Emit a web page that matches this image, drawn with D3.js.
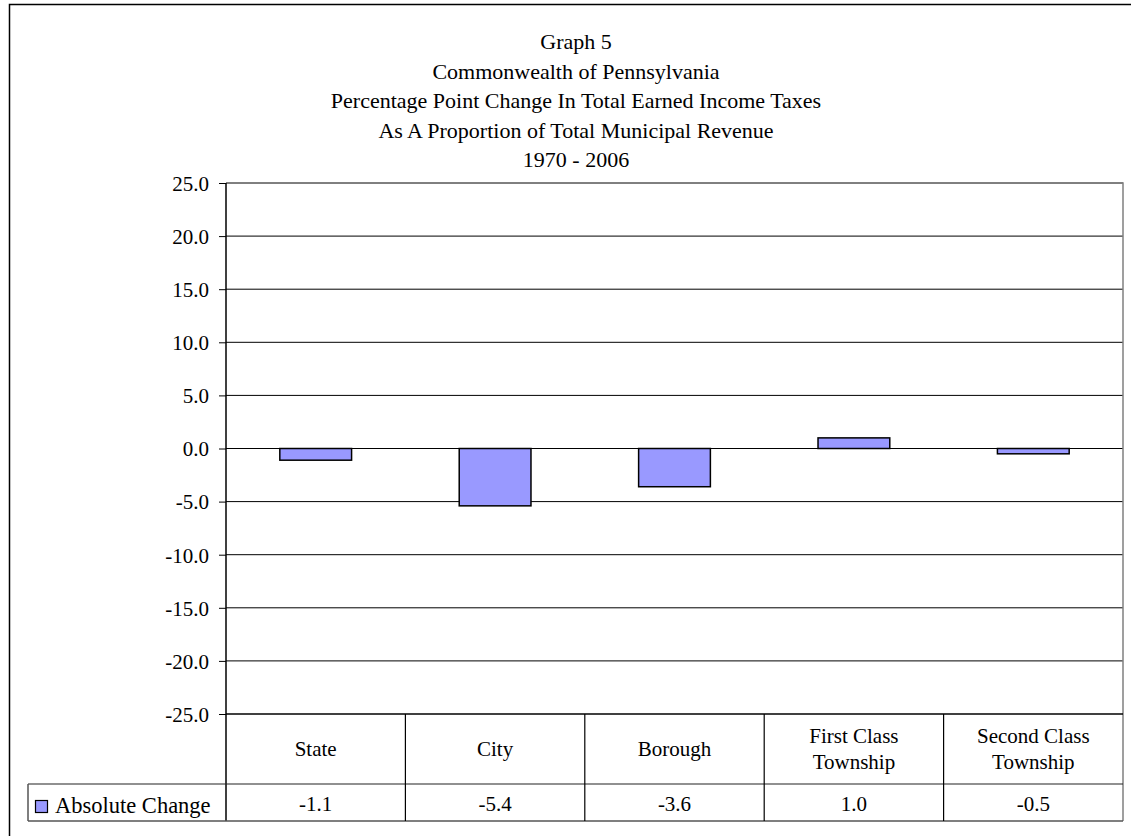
<!DOCTYPE html>
<html>
<head>
<meta charset="utf-8">
<script src="https://cdn.jsdelivr.net/npm/d3@7/dist/d3.min.js"></script>
<style>
  html, body { margin: 0; padding: 0; background: #fff; }
  svg { display: block; }
  svg text { font-family: "Liberation Serif", "DejaVu Serif", "Times New Roman", Times, serif !important; fill: #000; }
</style>
</head>
<body>
<svg id="chart" width="1131" height="836"></svg>
<script>
// Chart data
const titleLines = [
  "Graph 5",
  "Commonwealth of Pennsylvania",
  "Percentage Point Change In Total Earned Income Taxes",
  "As A Proportion of Total Municipal Revenue",
  "1970 - 2006"
];
const categories = ["State", "City", "Borough", "First Class\nTownship", "Second Class\nTownship"];
const seriesName = "Absolute Change";
const absoluteChange = [-1.1, -5.4, -3.6, 1.0, -0.5];
const yTicks = [25, 20, 15, 10, 5, 0, -5, -10, -15, -20, -25];
const yTickLabels = ["25.0", "20.0", "15.0", "10.0", "5.0", "0.0", "-5.0", "-10.0", "-15.0", "-20.0", "-25.0"];
const valueLabels = ["-1.1", "-5.4", "-3.6", "1.0", "-0.5"];

const barFill = "#9999FF";
const serif = "'Liberation Serif', 'DejaVu Serif', 'Times New Roman', Times, serif";

const svg = d3.select("#chart");

// Plot area geometry
const plot = { left: 226, right: 1123, top: 183, bottom: 714 };
const table = { left: 28, catBottom: 784, bottom: 821 };

const y = d3.scaleLinear().domain([-25, 25]).range([plot.bottom, plot.top]);
const x = d3.scaleBand().domain(categories).range([plot.left, plot.right]).padding(0);
const barW = x.bandwidth() * 0.4;

// Outer chart frame (runs off the right and bottom edges)
svg.append("path")
  .attr("d", `M9.5,840 V4.5 H1140`)
  .attr("fill", "none").attr("stroke", "#000").attr("stroke-width", 1.5);

// Title
const title = svg.append("g").attr("font-family", serif);
titleLines.forEach((t, i) => {
  title.append("text")
    .attr("x", 576).attr("y", 49 + i * 29.5)
    .attr("text-anchor", "middle")
    .attr("font-family", serif)
    .attr("font-size", 22)
    .text(t);
});

// Gridlines
svg.append("g")
  .selectAll("line")
  .data(yTicks.filter(v => v !== -25))
  .join("line")
  .attr("x1", plot.left).attr("x2", plot.right)
  .attr("y1", d => y(d)).attr("y2", d => y(d))
  .attr("stroke", "#000").attr("stroke-width", 1);

// Plot area border (top and right) in gray
svg.append("path")
  .attr("d", `M${plot.left},${plot.top} H${plot.right} V${table.bottom}`)
  .attr("fill", "none").attr("stroke", "#808080").attr("stroke-width", 1.5);

// Bars
svg.append("g")
  .selectAll("rect")
  .data(categories.map((c, i) => ({ c, v: absoluteChange[i] })))
  .join("rect")
  .attr("x", d => x(d.c) + (x.bandwidth() - barW) / 2)
  .attr("width", barW)
  .attr("y", d => Math.min(y(d.v), y(0)))
  .attr("height", d => Math.abs(y(d.v) - y(0)))
  .attr("fill", barFill)
  .attr("stroke", "#000").attr("stroke-width", 1.5);

// Y axis
const yAxis = d3.axisLeft(y)
  .tickValues(yTicks)
  .tickFormat((d, i) => yTickLabels[i])
  .tickSize(7)
  .tickPadding(10);
const ya = svg.append("g").attr("transform", `translate(${plot.left},0)`).call(yAxis)
  .attr("font-family", serif).attr("font-size", 21);
ya.select(".domain").remove();
ya.selectAll(".tick line").attr("stroke", "#000");
ya.selectAll(".tick text")
  .attr("font-family", serif)
  .attr("font-size", 21)
  .attr("dy", "0.35em")
  .attr("fill", "#000");
svg.append("line")
  .attr("x1", plot.left).attr("x2", plot.left)
  .attr("y1", plot.top).attr("y2", table.bottom)
  .attr("stroke", "#000").attr("stroke-width", 1.5);

// Data table under the axis
const tg = svg.append("g").attr("font-family", serif);
tg.append("line")
  .attr("x1", plot.left).attr("x2", plot.right)
  .attr("y1", plot.bottom).attr("y2", plot.bottom)
  .attr("stroke", "#000").attr("stroke-width", 1.5);
tg.append("line")
  .attr("x1", table.left).attr("x2", plot.right)
  .attr("y1", table.catBottom).attr("y2", table.catBottom)
  .attr("stroke", "#222").attr("stroke-width", 1.2);
tg.append("line")
  .attr("x1", table.left).attr("x2", plot.right)
  .attr("y1", table.bottom).attr("y2", table.bottom)
  .attr("stroke", "#555").attr("stroke-width", 1.5);
tg.append("line")
  .attr("x1", table.left).attr("x2", table.left)
  .attr("y1", table.catBottom).attr("y2", table.bottom)
  .attr("stroke", "#555").attr("stroke-width", 1.5);
tg.selectAll("line.sep")
  .data(categories.slice(1))
  .join("line").attr("class", "sep")
  .attr("x1", d => x(d)).attr("x2", d => x(d))
  .attr("y1", plot.bottom).attr("y2", table.bottom)
  .attr("stroke", "#000").attr("stroke-width", 1.2);

// Category labels
categories.forEach(c => {
  const lines = c.split("\n");
  const cx = x(c) + x.bandwidth() / 2;
  const mid = (plot.bottom + table.catBottom) / 2;
  const lh = 26;
  const t = tg.append("text")
    .attr("text-anchor", "middle")
    .attr("font-family", serif)
    .attr("font-size", 21);
  lines.forEach((ln, i) => {
    t.append("tspan")
      .attr("x", cx)
      .attr("y", mid + 7 + (i - (lines.length - 1) / 2) * lh)
      .text(ln);
  });
});

// Value row
valueLabels.forEach((v, i) => {
  tg.append("text")
    .attr("x", x(categories[i]) + x.bandwidth() / 2)
    .attr("y", 811)
    .attr("text-anchor", "middle")
    .attr("font-family", serif)
    .attr("font-size", 21)
    .text(v);
});

// Legend key in the table
tg.append("rect")
  .attr("x", 35.5).attr("y", 800.5).attr("width", 12).attr("height", 12)
  .attr("fill", barFill).attr("stroke", "#000").attr("stroke-width", 1.2);
tg.append("text")
  .attr("x", 55).attr("y", 813)
  .attr("font-family", serif)
  .attr("font-size", 22.5)
  .text(seriesName);
</script>
</body>
</html>
